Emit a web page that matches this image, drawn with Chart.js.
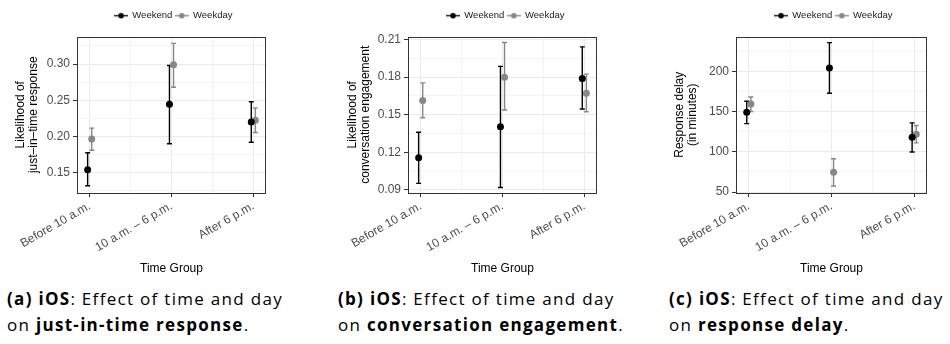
<!DOCTYPE html>
<html>
<head>
<meta charset="utf-8">
<script src="https://cdn.jsdelivr.net/npm/chart.js@4.4.1/dist/chart.umd.min.js"></script>
<style>
  html, body { margin: 0; padding: 0; background: #fff; width: 950px; height: 344px; overflow: hidden; }
  canvas { position: absolute; top: 0; }
  .cap { position: absolute; top: 286px; font-family: "Open Sans", Lato, sans-serif; font-size: 17px;
         letter-spacing: 1.3px; line-height: 26px; color: #000; white-space: nowrap; }
  .cap b { font-weight: bold; }
</style>
</head>
<body>
<canvas id="c1" width="339" height="280" style="left:4px"></canvas>
<canvas id="c2" width="335" height="280" style="left:338px"></canvas>
<canvas id="c3" width="331" height="280" style="left:668px"></canvas>

<div class="cap" style="left:7px"><b>(a) iOS</b>: Effect of time and day<br>on <b>just-in-time response</b>.</div>
<div class="cap" style="left:338px"><b>(b) iOS</b>: Effect of time and day<br>on <b>conversation engagement</b>.</div>
<div class="cap" style="left:669px"><b>(c) iOS</b>: Effect of time and day<br>on <b>response delay</b>.</div>

<script>
// categories on the x axis
const timeGroups = ['Before 10 a.m.', '10 a.m. – 6 p.m.', 'After 6 p.m.'];
const seriesNames = ['Weekend', 'Weekday'];

// (a) likelihood of just-in-time response
const jitWeekend     = [0.154, 0.2445, 0.220];
const jitWeekendLow  = [0.132, 0.190, 0.192];
const jitWeekendHigh = [0.1775, 0.298, 0.248];
const jitWeekday     = [0.1965, 0.299, 0.2225];
const jitWeekdayLow  = [0.181, 0.268, 0.2055];
const jitWeekdayHigh = [0.2115, 0.3285, 0.2395];
const jitTicks = [0.15, 0.20, 0.25, 0.30];
const jitMinor = [0.125, 0.175, 0.225, 0.275, 0.325];

// (b) likelihood of conversation engagement
const convWeekend     = [0.1157, 0.1404, 0.1789];
const convWeekendLow  = [0.0953, 0.092, 0.1546];
const convWeekendHigh = [0.1361, 0.1886, 0.2041];
const convWeekday     = [0.1613, 0.180, 0.1672];
const convWeekdayLow  = [0.1476, 0.1538, 0.1524];
const convWeekdayHigh = [0.1754, 0.2076, 0.1824];
const convTicks = [0.09, 0.12, 0.15, 0.18, 0.21];
const convMinor = [0.105, 0.135, 0.165, 0.195];

// (c) response delay in minutes
const delayWeekend     = [149.5, 204.6, 118.3];
const delayWeekendLow  = [135.3, 173.3, 100.0];
const delayWeekendHigh = [163.3, 236.3, 136.3];
const delayWeekday     = [159.9, 74.6, 122.0];
const delayWeekdayLow  = [150.4, 57.5, 111.3];
const delayWeekdayHigh = [168.6, 91.6, 133.0];
const delayTicks = [50, 100, 150, 200];
const delayMinor = [75, 125, 175, 225];

const xTicks = [1, 1.5, 2, 2.5, 3];
const dodge = 0.025;
const colWeekend = '#000000';
const colWeekday = '#878787';

Chart.defaults.font.family = '"Liberation Sans", Arial, Helvetica, sans-serif';

function legendSymbol(color) {
  const c = document.createElement('canvas');
  c.width = 14; c.height = 7;
  const g = c.getContext('2d');
  g.strokeStyle = color; g.lineWidth = 1.3;
  g.beginPath(); g.moveTo(0, 3.5); g.lineTo(14, 3.5); g.stroke();
  g.fillStyle = color;
  g.beginPath(); g.arc(7, 3.5, 2.8, 0, Math.PI * 2); g.fill();
  return c;
}

function points(means, lows, highs, shift) {
  return means.map((m, i) => ({x: i + 1 + shift, y: m, yMin: lows[i], yMax: highs[i]}));
}

const near = (list, v) => list.some(t => Math.abs(t - v) < 1e-9);

// error bars drawn under the points
const errorBars = {
  id: 'errorBars',
  beforeDatasetsDraw(chart) {
    const {ctx, scales: {x, y}} = chart;
    chart.data.datasets.forEach(ds => {
      ctx.save();
      ctx.strokeStyle = ds.backgroundColor;
      ctx.lineWidth = 1.4;
      ds.data.forEach(p => {
        const px = x.getPixelForValue(p.x);
        const top = y.getPixelForValue(p.yMax);
        const bot = y.getPixelForValue(p.yMin);
        ctx.beginPath();
        ctx.moveTo(px, top); ctx.lineTo(px, bot);
        ctx.moveTo(px - 2.5, top); ctx.lineTo(px + 2.5, top);
        ctx.moveTo(px - 2.5, bot); ctx.lineTo(px + 2.5, bot);
        ctx.stroke();
      });
      ctx.restore();
    });
  }
};

// panel border on all four sides
const panelBorder = {
  id: 'panelBorder',
  afterDatasetsDraw(chart) {
    const a = chart.chartArea, ctx = chart.ctx;
    ctx.save();
    ctx.strokeStyle = '#333333';
    ctx.lineWidth = 1;
    ctx.strokeRect(Math.round(a.left) + 0.5, Math.round(a.top) + 0.5,
                   Math.round(a.right - a.left) - 1, Math.round(a.bottom - a.top) - 1);
    ctx.restore();
  }
};

function makePanel(id, p) {
  const ctx = document.getElementById(id);
  return new Chart(ctx, {
    type: 'scatter',
    data: {
      datasets: [
        {label: seriesNames[0], data: points(p.weekend, p.weekendLow, p.weekendHigh, -dodge),
         backgroundColor: colWeekend, borderColor: colWeekend},
        {label: seriesNames[1], data: points(p.weekday, p.weekdayLow, p.weekdayHigh, dodge),
         backgroundColor: colWeekday, borderColor: colWeekday}
      ]
    },
    options: {
      responsive: false,
      animation: false,
      events: [],
      layout: {padding: {top: 8, left: 0, right: 0, bottom: 0}},
      elements: {point: {radius: 3.5, borderWidth: 0, hoverRadius: 3.5}},
      plugins: {
        tooltip: {enabled: false},
        legend: {
          position: 'top',
          labels: {
            usePointStyle: true,
            pointStyleWidth: 13,
            boxHeight: 7,
            padding: 3,
            color: '#1a1a1a',
            font: {size: 9.5},
            generateLabels: chart => chart.data.datasets.map((ds, i) => ({
              text: ds.label, pointStyle: legendSymbol(ds.backgroundColor),
              fillStyle: ds.backgroundColor, strokeStyle: ds.backgroundColor,
              lineWidth: 0, hidden: false, datasetIndex: i, fontColor: '#1a1a1a'
            }))
          }
        }
      },
      scales: {
        x: {
          type: 'linear', min: 0.845, max: 3.155,
          afterBuildTicks: s => { s.ticks = xTicks.map(v => ({value: v})); },
          afterFit: s => { s.height = 87; },
          border: {display: false},
          grid: {
            color: c => Number.isInteger(c.tick.value) ? '#ebebeb' : '#f4f4f4',
            tickColor: c => Number.isInteger(c.tick.value) ? '#333333' : 'rgba(0,0,0,0)',
            tickLength: 4
          },
          ticks: {
            autoSkip: false, minRotation: 30, maxRotation: 30, padding: 2,
            color: '#4d4d4d', font: {size: 12},
            callback: v => Number.isInteger(v) ? timeGroups[v - 1] : ''
          },
          title: {display: true, text: 'Time Group', color: '#000', font: {size: 12},
                  padding: {top: 0, bottom: 4}}
        },
        gapTop: {
          axis: 'x', type: 'linear', position: 'top', display: true, min: 0, max: 1,
          afterFit: s => { s.height = 6; },
          border: {display: false}, grid: {display: false}, ticks: {display: false}
        },
        y: {
          position: 'left', min: p.yMin, max: p.yMax,
          afterBuildTicks: s => {
            s.ticks = p.ticks.concat(p.minor).sort((a, b) => a - b).map(v => ({value: v}));
          },
          afterFit: s => { s.width = p.yWidth; },
          border: {display: false},
          grid: {
            color: c => near(p.ticks, c.tick.value) ? '#ebebeb' : '#f4f4f4',
            tickColor: c => near(p.ticks, c.tick.value) ? '#333333' : 'rgba(0,0,0,0)',
            tickLength: 4
          },
          ticks: {
            autoSkip: false, padding: 3, color: '#4d4d4d', font: {size: 12},
            callback: v => near(p.ticks, v) ? v.toFixed(p.decimals) : ''
          },
          title: {display: true, text: p.yTitle, color: '#000',
                  font: {size: 12, lineHeight: 1.083}, padding: {top: p.titlePad, bottom: 0}}
        },
        spacer: {
          position: 'right', display: true, min: 0, max: 1,
          afterFit: s => { s.width = p.spacer; },
          border: {display: false}, grid: {display: false}, ticks: {display: false}
        }
      }
    },
    plugins: [errorBars, panelBorder]
  });
}

makePanel('c1', {
  weekend: jitWeekend, weekendLow: jitWeekendLow, weekendHigh: jitWeekendHigh,
  weekday: jitWeekday, weekdayLow: jitWeekdayLow, weekdayHigh: jitWeekdayHigh,
  ticks: jitTicks, minor: jitMinor, yMin: 0.122, yMax: 0.338, decimals: 2,
  yTitle: ['Likelihood of', 'just–in–time response'], yWidth: 73, spacer: 77, titlePad: 10.2
});
makePanel('c2', {
  weekend: convWeekend, weekendLow: convWeekendLow, weekendHigh: convWeekendHigh,
  weekday: convWeekday, weekdayLow: convWeekdayLow, weekdayHigh: convWeekdayHigh,
  ticks: convTicks, minor: convMinor, yMin: 0.0876, yMax: 0.2124, decimals: 2,
  yTitle: ['Likelihood of', 'conversation engagement'], yWidth: 70, spacer: 76, titlePad: 7.8
});
makePanel('c3', {
  weekend: delayWeekend, weekendLow: delayWeekendLow, weekendHigh: delayWeekendHigh,
  weekday: delayWeekday, weekdayLow: delayWeekdayLow, weekdayHigh: delayWeekdayHigh,
  ticks: delayTicks, minor: delayMinor, yMin: 48.8, yMax: 244, decimals: 0,
  yTitle: ['Response delay', '(in minutes)'], yWidth: 68, spacer: 72, titlePad: 5.5
});
</script>
</body>
</html>
